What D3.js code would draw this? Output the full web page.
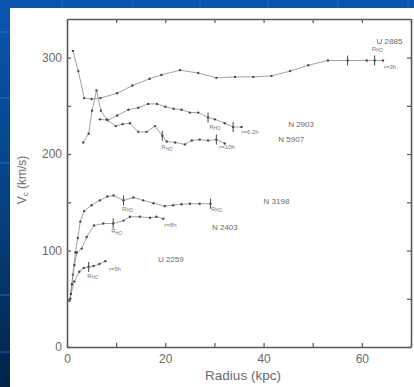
<!DOCTYPE html>
<html>
<head>
<meta charset="utf-8">
<script src="https://cdn.jsdelivr.net/npm/d3@7"></script>
<style>
  body { margin: 0; padding: 0; background: #0a4a9a; }
  svg { display: block; }
</style>
</head>
<body>
<svg id="chart" width="414" height="387"></svg>
<script>
// ---- data (radius kpc, rotation velocity km/s) ----
const U2885 = [[1.2,307],[2.3,286],[3.5,258],[5.0,257],[6.8,258],[10.2,263],[13.3,271],[16.8,278],[19.2,282],[23.0,287],[26.7,284],[30.4,279],[34.2,280],[37.9,280],[41.6,281],[45.4,286],[49.1,292],[53.1,297],[57.1,297],[61.0,297],[62.6,297],[64.3,297]];
const N2903 = [[6.7,236],[8.3,235],[10.2,240],[12.5,246],[14.5,248],[16.5,252],[18.3,252],[20.0,249],[21.7,247],[23.3,246],[25.0,243],[26.7,243],[28.7,238],[30.1,236],[32.1,232],[33.8,228],[35.5,228]];
const N5907 = [[3.3,212],[4.4,221],[5.1,245],[6.0,266],[6.9,245],[8.1,236],[9.9,229],[11.3,231],[12.8,232],[14.5,223],[16.2,223],[17.9,229],[19.4,219],[20.3,213],[22.0,212],[24.0,210],[25.4,214],[27.0,215],[28.7,214],[30.4,215],[32.1,211]];
const N3198 = [[0.7,50],[1.2,75],[1.7,98],[2.2,113],[2.7,130],[3.5,141],[5.0,147],[6.7,152],[8.2,156],[9.5,157],[11.5,152],[13.5,155],[15.5,152],[17.6,149],[19.9,146],[21.6,147],[23.3,148],[25.0,148.5],[27.0,148.5],[29.2,148.5]];
const N2403 = [[0.5,48],[1.0,65],[1.5,85],[2.0,98],[3.0,102],[4.0,114],[5.5,126],[7.4,128],[9.4,128],[11.5,131],[12.8,135],[14.8,135],[16.9,134],[18.2,135],[19.6,133]];
const U2259 = [[0.8,55],[1.5,68],[2.5,78],[3.4,82],[4.4,83],[5.4,84],[6.6,86],[7.8,89]];

const seriesNames = ["U 2885","N 2903","N 5907","N 3198","N 2403","U 2259"];
const seriesData  = [U2885, N2903, N5907, N3198, N2403, U2259];
// radii of points carrying error bars, per series
const errorBarRadii = [[57.1,62.6],[28.7,33.8],[19.4,30.4],[11.5,29.2],[9.4],[4.4]];
// galaxy name label anchors [radius, velocity]
const nameLabelPos = [[63,314],[45,228],[43,212],[40,148],[29.5,121],[18.5,88]];
// small annotations [radius, velocity, main, subscript]
const notes = [
  [62.0,307,"R","HO"],[64.5,288,"r=3h",""],
  [29.0,226,"R","HO"],[35.5,221,"r=6.2h",""],
  [19.2,205,"R","HO"],[31.0,205,"r=10h",""],
  [11.2,141,"R","HO"],[29.3,141,"R","HO"],
  [9.0,118,"R","HO"],[19.8,124,"r=8h",""],
  [4.1,72,"R","HO"],[8.5,79,"r=5h",""]
];

const xTicks = [0,10,20,30,40,50,60,70];
const xTickLabels = [0,20,40,60];
const yTicks = [0,50,100,150,200,250,300];
const yTickLabels = [0,100,200,300];

const W = 414, H = 387;
const svg = d3.select("#chart");

// ---- slide background ----
const defs = svg.append("defs");
const grad = defs.append("linearGradient").attr("id","bg").attr("x1",0).attr("y1",0).attr("x2",0).attr("y2",1);
grad.append("stop").attr("offset","0%").attr("stop-color","#0a56b0");
grad.append("stop").attr("offset","55%").attr("stop-color","#06407f");
grad.append("stop").attr("offset","100%").attr("stop-color","#03234a");
svg.append("rect").attr("width",W).attr("height",H).attr("fill","url(#bg)");
[32,98,163,295,352].forEach(yy => svg.append("line").attr("x1",0).attr("x2",10).attr("y1",yy).attr("y2",yy)
  .attr("stroke","#3f7fd0").attr("stroke-opacity",0.7).attr("stroke-width",1));
[62,133,200,268,338,408].forEach(xx => svg.append("line").attr("x1",xx).attr("x2",xx).attr("y1",0).attr("y2",8)
  .attr("stroke","#2f6cc0").attr("stroke-opacity",0.8).attr("stroke-width",1));
svg.append("rect").attr("x",10).attr("y",8).attr("width",W-10).attr("height",H-8).attr("fill","#ffffff");

// ---- scales ----
const x = d3.scaleLinear().domain([0,70]).range([67,411]);
const y = d3.scaleLinear().domain([0,340]).range([347,19]);

const axisColor = "#5a5a5a";
const textColor = "#6a6a6a";
const font = "'Liberation Sans', Arial, sans-serif";

function styleAxis(g){
  g.select(".domain").attr("stroke",axisColor).attr("stroke-width",1.6);
  g.selectAll(".tick line").attr("stroke",axisColor).attr("stroke-width",1.2);
  g.selectAll(".tick text").attr("fill",textColor).attr("font-family",font).attr("font-size",12);
}

svg.append("g").attr("transform",`translate(0,${y(0)})`)
  .call(d3.axisBottom(x).tickValues(xTicks).tickSizeInner(-4).tickSizeOuter(0).tickPadding(7)
    .tickFormat(d => xTickLabels.includes(d) ? d : ""))
  .call(styleAxis);
svg.append("g").attr("transform",`translate(0,${y(340)})`)
  .call(d3.axisTop(x).tickValues(xTicks).tickSizeInner(-4).tickSizeOuter(0).tickFormat(""))
  .call(styleAxis);
svg.append("g").attr("transform",`translate(${x(0)},0)`)
  .call(d3.axisLeft(y).tickValues(yTicks).tickSizeInner(-4).tickSizeOuter(0).tickPadding(5)
    .tickFormat(d => yTickLabels.includes(d) ? d : ""))
  .call(styleAxis);
svg.append("g").attr("transform",`translate(${x(70)},0)`)
  .call(d3.axisRight(y).tickValues(yTicks).tickSizeInner(-4).tickSizeOuter(0).tickFormat(""))
  .call(styleAxis);

// axis titles
svg.append("text").attr("x",243).attr("y",380).attr("text-anchor","middle")
  .attr("font-family",font).attr("font-size",13.5).attr("fill",textColor).text("Radius (kpc)");
const yl = svg.append("text").attr("transform","translate(26,180) rotate(-90)").attr("text-anchor","middle")
  .attr("font-family",font).attr("font-size",12).attr("fill",textColor);
yl.append("tspan").text("V");
yl.append("tspan").attr("font-size",8).attr("dy",2).text("c");
yl.append("tspan").attr("dy",-2).text(" (km/s)");

// ---- curves ----
const line = d3.line().x(d => x(d[0])).y(d => y(d[1])).curve(d3.curveLinear);
const plot = svg.append("g");
seriesData.forEach((data,i) => {
  plot.append("path").datum(data).attr("d",line).attr("fill","none")
    .attr("stroke","#8a8a8a").attr("stroke-width",0.8);
  plot.selectAll(null).data(data).enter().append("circle")
    .attr("cx",d => x(d[0])).attr("cy",d => y(d[1])).attr("r",1.2).attr("fill","#4a4a4a");
  const eb = data.filter(d => errorBarRadii[i].includes(d[0]));
  plot.selectAll(null).data(eb).enter().append("line")
    .attr("x1",d => x(d[0])).attr("x2",d => x(d[0]))
    .attr("y1",d => y(d[1]) - 5).attr("y2",d => y(d[1]) + 5)
    .attr("stroke","#555").attr("stroke-width",1.1);
  plot.append("text").attr("x",x(nameLabelPos[i][0])).attr("y",y(nameLabelPos[i][1]))
    .attr("font-family",font).attr("font-size",8).attr("fill","#6a6a6a").text(seriesNames[i]);
});

notes.forEach(n => {
  const t = plot.append("text").attr("x",x(n[0])).attr("y",y(n[1]))
    .attr("font-family",font).attr("font-size",6).attr("fill","#777");
  t.append("tspan").text(n[2]);
  if (n[3]) t.append("tspan").attr("font-size",4.5).attr("dy",1.5).text(n[3]);
});
</script>
</body>
</html>
